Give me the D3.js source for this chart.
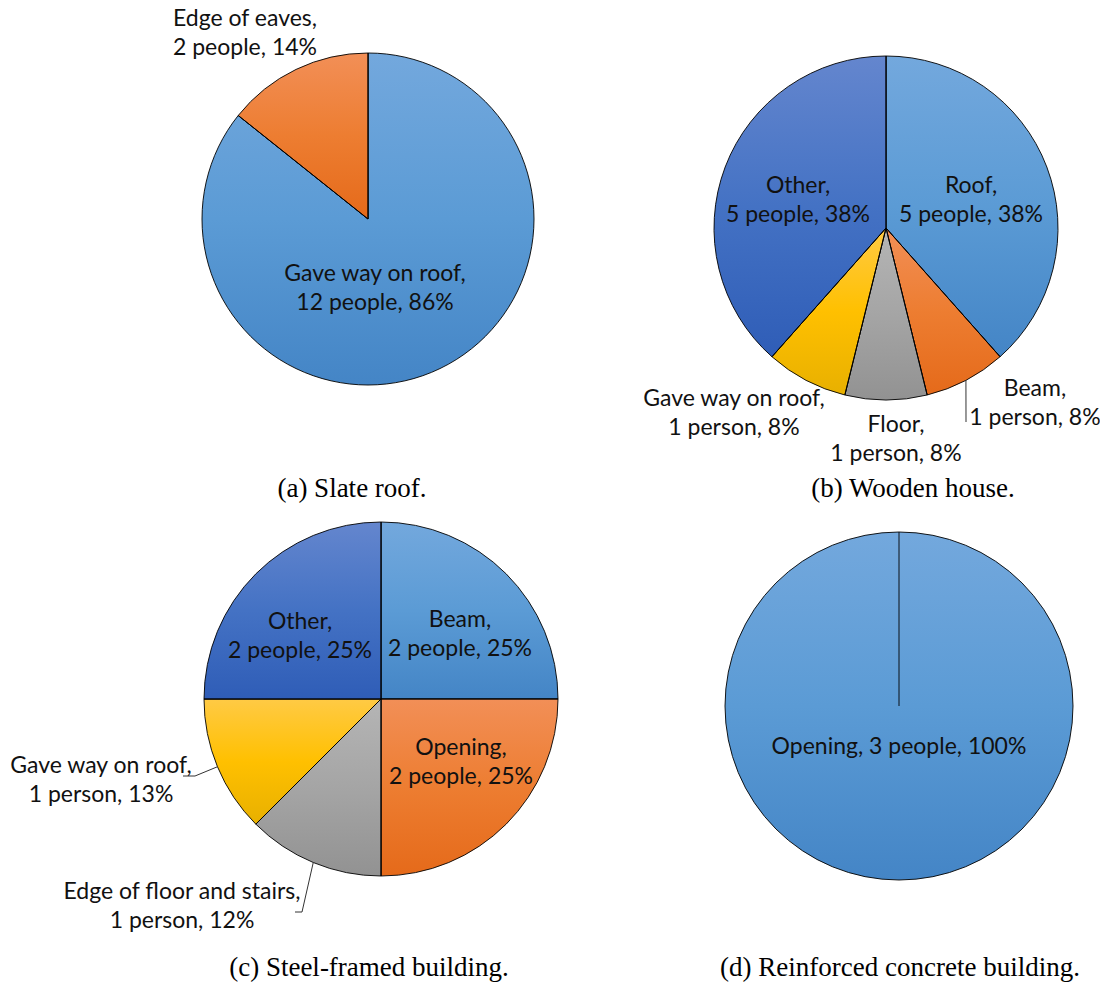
<!DOCTYPE html>
<html>
<head>
<meta charset="utf-8">
<script src="https://cdn.jsdelivr.net/npm/d3@7"></script>
<style>
  body { margin: 0; background: #fff; }
  .lbl { font-family: Lato, "Open Sans", sans-serif; font-size: 23px; fill: #111; }
  .cap { font-family: "Liberation Serif", "Times New Roman", serif; font-size: 27px; fill: #000; }
</style>
</head>
<body>
<div id="d3-target"></div>
<script>
// (a) slate roof
const slateCats = ["Gave way on roof", "Edge of eaves"];
const slateCounts = [12, 2];
const slatePcts = ["86%", "14%"];

// (b) wooden house
const woodCats = ["Roof", "Beam", "Floor", "Gave way on roof", "Other"];
const woodCounts = [5, 1, 1, 1, 5];
const woodPcts = ["38%", "8%", "8%", "8%", "38%"];

// (c) steel-framed building
const steelCats = ["Beam", "Opening", "Edge of floor and stairs", "Gave way on roof", "Other"];
const steelCounts = [2, 2, 1, 1, 2];
const steelPcts = ["25%", "25%", "12%", "13%", "25%"];

// (d) reinforced concrete building
const rcCats = ["Opening"];
const rcCounts = [3];
const rcPcts = ["100%"];

const captions = ["(a) Slate roof.", "(b) Wooden house.", "(c) Steel-framed building.", "(d) Reinforced concrete building."];

// office-like palette, top / mid / bottom of each gradient
const palette = [
  ["#73a8dd", "#5b9bd5", "#4485c6"],
  ["#f28f57", "#ed7d31", "#e56a1a"],
  ["#b5b5b5", "#a5a5a5", "#929292"],
  ["#ffca45", "#ffc000", "#e8b000"],
  ["#6486ce", "#4472c4", "#2f5db7"]
];

// layout (positions only, kept apart from the data)
const panels = [
  { cats: slateCats, counts: slateCounts, pcts: slatePcts, cx: 368, cy: 219, r: 166,
    cap: captions[0], capX: 352, capY: 497,
    lab: [[7, 68], [-123, -187]], leaders: {} },
  { cats: woodCats, counts: woodCounts, pcts: woodPcts, cx: 886, cy: 228, r: 172,
    cap: captions[1], capX: 913, capY: 497,
    lab: [[85, -29], [149, 174], [10, 210], [-152, 184], [-88, -29]],
    leaders: { 1: [[80, 194]] } },
  { cats: steelCats, counts: steelCounts, pcts: steelPcts, cx: 381, cy: 699, r: 177,
    cap: captions[2], capX: 369, capY: 976,
    lab: [[79, -66], [80, 62], [-199, 206], [-280, 80], [-81, -64]],
    leaders: { 2: [[-79, 213], [-86, 213]], 3: [[-186, 77], [-198, 77]] } },
  { cats: rcCats, counts: rcCounts, pcts: rcPcts, cx: 899, cy: 706, r: 174,
    cap: captions[3], capX: 900, capY: 976,
    lab: [[0, 40]], leaders: {}, oneLine: true }
];

const svg = d3.select("#d3-target").append("svg")
  .attr("width", 1100).attr("height", 985);

const defs = svg.append("defs");
palette.forEach((c, i) => {
  const g = defs.append("linearGradient").attr("id", "grad" + i)
    .attr("x1", 0).attr("y1", 0).attr("x2", 0).attr("y2", 1);
  g.append("stop").attr("offset", "0%").attr("stop-color", c[0]);
  g.append("stop").attr("offset", "50%").attr("stop-color", c[1]);
  g.append("stop").attr("offset", "100%").attr("stop-color", c[2]);
});

const pie = d3.pie().sort(null).value(d => d);
const lineH = 29;

panels.forEach(p => {
  const g = svg.append("g").attr("transform", `translate(${p.cx},${p.cy})`);
  const arcs = pie(p.counts);
  const arc = d3.arc().innerRadius(0).outerRadius(p.r);

  g.selectAll("path.slice").data(arcs).enter().append("path")
    .attr("class", "slice")
    .attr("d", arc)
    .attr("fill", (d, i) => `url(#grad${i % palette.length})`)
    .attr("stroke", "#000")
    .attr("stroke-width", 0.9);

  // slice boundary from centre (shows up on the 100% pie)
  g.selectAll("line.edge").data(arcs).enter().append("line")
    .attr("class", "edge")
    .attr("x1", 0).attr("y1", 0)
    .attr("x2", d => p.r * Math.sin(d.startAngle))
    .attr("y2", d => -p.r * Math.cos(d.startAngle))
    .attr("stroke", "#000").attr("stroke-width", 0.9);

  // leader lines
  Object.keys(p.leaders).forEach(k => {
    const a = arcs[+k];
    const mid = (a.startAngle + a.endAngle) / 2;
    const pts = [[p.r * Math.sin(mid), -p.r * Math.cos(mid)]].concat(p.leaders[k]);
    g.append("path")
      .attr("d", d3.line()(pts))
      .attr("fill", "none")
      .attr("stroke", "#333")
      .attr("stroke-width", 1);
  });

  // labels
  arcs.forEach((a, i) => {
    const n = p.counts[i];
    const who = `${n} ${n === 1 ? "person" : "people"}, ${p.pcts[i]}`;
    const lines = p.oneLine ? [`${p.cats[i]}, ${who}`] : [`${p.cats[i]},`, who];
    const [lx, ly] = p.lab[i];
    const t = g.append("text").attr("class", "lbl")
      .attr("text-anchor", "middle");
    lines.forEach((s, j) => {
      t.append("tspan")
        .attr("x", lx)
        .attr("y", ly + (j - (lines.length - 1) / 2) * lineH)
        .attr("dy", "0.35em")
        .text(s);
    });
  });

  svg.append("text").attr("class", "cap")
    .attr("x", p.capX).attr("y", p.capY)
    .attr("text-anchor", "middle")
    .text(p.cap);
});
</script>
</body>
</html>
